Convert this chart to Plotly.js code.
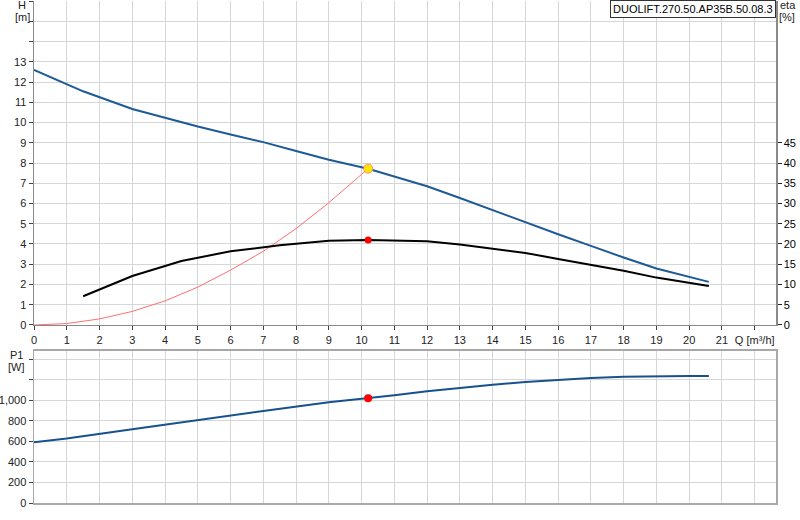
<!DOCTYPE html>
<html>
<head>
<meta charset="utf-8">
<script src="https://cdn.plot.ly/plotly-2.35.2.min.js"></script>
<style>
  html, body { margin: 0; padding: 0; background: #fff; }
  #plotly { width: 800px; height: 520px; }
</style>
</head>
<body>
<div id="plotly"></div>
<script>
var qHead = [0, 1.5, 3, 4, 5, 6, 7, 8, 9, 10.2, 11, 12, 13, 14, 15, 16, 17, 18, 19, 20, 20.6];
var head = [12.6, 11.54, 10.67, 10.23, 9.8, 9.41, 9.03, 8.59, 8.16, 7.72, 7.35, 6.85, 6.27, 5.67, 5.09, 4.48, 3.91, 3.33, 2.79, 2.4, 2.13];

var qEta = [1.5, 3, 4.5, 6, 7.5, 9, 10.2, 11, 12, 13, 14, 15, 16, 17, 18, 19, 20, 20.6];
var eta = [7.1, 12.1, 15.8, 18.2, 19.7, 20.8, 21.0, 20.9, 20.7, 19.9, 18.8, 17.8, 16.3, 14.8, 13.4, 11.7, 10.4, 9.6];

var qSystem = [0, 1, 2, 3, 4, 5, 6, 7, 8, 9, 10.2];
var hSystem = [0, 0.07, 0.3, 0.67, 1.19, 1.87, 2.71, 3.64, 4.76, 6.04, 7.72];

var qP1 = [0, 1, 3, 5, 7, 9, 10.2, 11, 12, 13, 14, 15, 16, 17, 18, 19, 20, 20.6];
var p1 = [592, 627, 718, 809, 896, 981, 1019, 1049, 1087, 1121, 1152, 1178, 1200, 1217, 1228, 1234, 1236, 1236];

var dutyQ = 10.2;
var dutyHead = 7.72;
var dutyEta = 21.0;
var dutyP1 = 1019;

var qTicks = [0, 1, 2, 3, 4, 5, 6, 7, 8, 9, 10, 11, 12, 13, 14, 15, 16, 17, 18, 19, 20, 21, 22];
var qTickText = ['0', '1', '2', '3', '4', '5', '6', '7', '8', '9', '10', '11', '12', '13', '14', '15', '16', '17', '18', '19', '20', '21', 'Q [m\u00b3/h]'];
var hTicks = [0, 1, 2, 3, 4, 5, 6, 7, 8, 9, 10, 11, 12, 13, 14, 15, 16];
var hTickText = ['0', '1', '2', '3', '4', '5', '6', '7', '8', '9', '10', '11', '12', '13', '', '', ''];
var etaTicks = [0, 5, 10, 15, 20, 25, 30, 35, 40, 45];
var p1Ticks = [0, 200, 400, 600, 800, 1000, 1200, 1400];
var p1TickText = ['0', '200', '400', '600', '800', '1,000', '', ''];

var pumpName = 'DUOLIFT.270.50.AP35B.50.08.3';

var drawCurves = function() {
  var axisFont, config, data, gridColor, label, layout, lineColor;
  gridColor = '#d4d6d8';
  lineColor = '#8a8a8a';
  axisFont = {family: 'Liberation Sans, Arial, sans-serif', size: 11, color: '#222'};

  data = [
    {
      x: qSystem, y: hSystem, xaxis: 'x', yaxis: 'y',
      mode: 'lines', line: {color: '#ff7070', width: 1},
      type: 'scatter'
    }, {
      x: qHead, y: head, xaxis: 'x', yaxis: 'y',
      mode: 'lines', line: {color: '#1d5a96', width: 2},
      type: 'scatter'
    }, {
      x: qEta, y: eta, xaxis: 'x', yaxis: 'y2',
      mode: 'lines', line: {color: '#000', width: 2},
      type: 'scatter'
    }, {
      x: [dutyQ], y: [dutyEta], xaxis: 'x', yaxis: 'y2',
      mode: 'markers', marker: {color: '#ff0000', size: 7},
      type: 'scatter'
    }, {
      x: [dutyQ], y: [dutyHead], xaxis: 'x', yaxis: 'y',
      mode: 'markers', marker: {color: '#ffe800', size: 9, line: {color: '#ff8a60', width: 1}},
      type: 'scatter'
    }, {
      x: qP1, y: p1, xaxis: 'x2', yaxis: 'y3',
      mode: 'lines', line: {color: '#17528e', width: 2},
      type: 'scatter'
    }, {
      x: [dutyQ], y: [dutyP1], xaxis: 'x2', yaxis: 'y3',
      mode: 'markers', marker: {color: '#ff0000', size: 8},
      type: 'scatter'
    }
  ];

  // little unit labels that sit outside the plot corners
  label = function(text, x, y) {
    return {
      text: text, xref: 'paper', yref: 'paper', x: x, y: y,
      xanchor: 'center', yanchor: 'middle', showarrow: false,
      font: {family: 'Liberation Sans, Arial, sans-serif', size: 11, color: '#222'}
    };
  };

  layout = {
    width: 800,
    height: 520,
    margin: {l: 34, r: 24, t: 1, b: 17},
    paper_bgcolor: '#fff',
    plot_bgcolor: '#fff',
    showlegend: false,
    font: axisFont,
    xaxis: {
      range: [0, 22.65],
      tickmode: 'array', tickvals: qTicks, ticktext: qTickText,
      ticks: 'outside', ticklen: 4, tickcolor: '#444',
      showgrid: true, gridcolor: gridColor, gridwidth: 1,
      showline: true, linecolor: lineColor, linewidth: 1.5,
      zeroline: false, anchor: 'y', tickfont: axisFont
    },
    yaxis: {
      domain: [0.3546, 1],
      range: [0, 16],
      tickmode: 'array', tickvals: hTicks, ticktext: hTickText,
      ticks: 'outside', ticklen: 4, tickcolor: '#444',
      showgrid: true, gridcolor: gridColor, gridwidth: 1,
      showline: true, linecolor: lineColor, linewidth: 1.5,
      zeroline: false, anchor: 'x', tickfont: axisFont
    },
    yaxis2: {
      overlaying: 'y', side: 'right', anchor: 'x',
      range: [0, 80],
      tickmode: 'array', tickvals: etaTicks,
      ticks: 'outside', ticklen: 4, tickcolor: '#222',
      showgrid: false,
      showline: true, linecolor: lineColor, linewidth: 1.5,
      zeroline: false,
      tickfont: {family: 'Liberation Sans, Arial, sans-serif', size: 11, color: '#000'}
    },
    xaxis2: {
      matches: 'x', anchor: 'y3',
      range: [0, 22.65],
      tickmode: 'array', tickvals: qTicks,
      showticklabels: false, ticks: '',
      showgrid: true, gridcolor: gridColor, gridwidth: 1,
      showline: true, mirror: true, linecolor: '#a8a8a8', linewidth: 1.5,
      zeroline: false
    },
    yaxis3: {
      domain: [0, 0.3028], anchor: 'x2',
      range: [0, 1480],
      tickmode: 'array', tickvals: p1Ticks, ticktext: p1TickText,
      ticks: 'outside', ticklen: 4, tickcolor: '#444',
      showgrid: true, gridcolor: gridColor, gridwidth: 1,
      showline: true, mirror: true, linecolor: '#a8a8a8', linewidth: 1.5,
      zeroline: false, tickfont: axisFont
    },
    annotations: [
      label('H', -0.016, 0.992),
      label('[m]', -0.016, 0.968),
      label('eta', 1.016, 0.992),
      label('[%]', 1.015, 0.968),
      label('P1', -0.023, 0.294),
      label('[W]', -0.024, 0.270),
      {
        text: pumpName, xref: 'paper', yref: 'paper', x: 1, y: 1.002,
        xanchor: 'right', yanchor: 'top', showarrow: false,
        bgcolor: '#fff', bordercolor: '#333', borderwidth: 1, borderpad: 2,
        font: {family: 'Liberation Sans, Arial, sans-serif', size: 11, color: '#000'}
      }
    ]
  };

  config = {
    staticPlot: true
  };
  Plotly.newPlot('plotly', data, layout, config);
};

drawCurves();
</script>
</body>
</html>
